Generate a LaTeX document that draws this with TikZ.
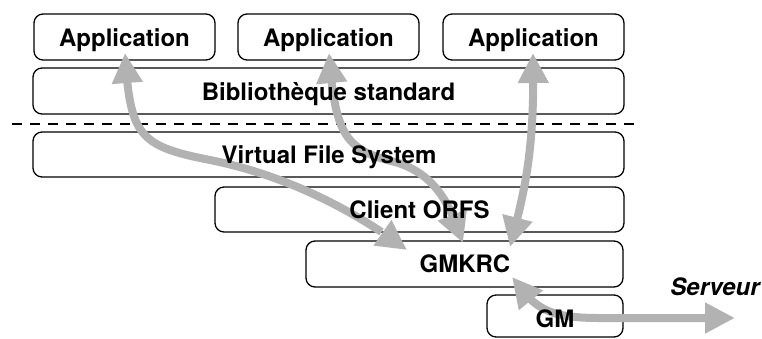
\documentclass[tikz,border=0pt]{standalone}
\usepackage{fontspec}
\setmainfont{TeX Gyre Heros}
\usetikzlibrary{arrows.meta,bending}
\begin{document}
\begin{tikzpicture}[x=1pt,y=-1pt,
  box/.style={draw,line width=1.3pt,rounded corners=9pt,fill=white,inner sep=0pt,outer sep=0pt},
  lbl/.style={font=\fontsize{24}{28}\selectfont\bfseries,anchor=base,inner sep=0pt},
  flow/.style={line width=8pt,draw=black!30,
    {Triangle[length=30pt,width=29pt,fill=black!30,color=black!30]}-{Triangle[length=30pt,width=29pt,fill=black!30,color=black!30]}}]
\useasboundingbox (0,0) rectangle (762,338);
% boxes
\node[box,minimum width=181pt,minimum height=46pt] (app1) at (124.5,37) {};
\node[box,minimum width=181pt,minimum height=46pt] (app2) at (328.5,37) {};
\node[box,minimum width=181pt,minimum height=46pt] (app3) at (533.5,37) {};
\node[box,minimum width=591pt,minimum height=46pt] (bib) at (328.5,91) {};
\coordinate (dl) at (12,124);
\coordinate (dr) at (638,124);
\draw[line width=1.3pt,dash pattern=on 10pt off 8pt] (dl) -- (dr);
\node[box,minimum width=591pt,minimum height=45pt] (vfs) at (328.5,154.5) {};
\node[box,minimum width=409pt,minimum height=45pt] (orfs) at (419.5,209.5) {};
\node[box,minimum width=317pt,minimum height=46pt] (gmkrc) at (464.5,264) {};
\node[box,minimum width=136pt,minimum height=42pt] (gm) at (555,316) {};
% arrow end points
\coordinate (t1) at (125,53);
\coordinate (h1) at (407,250);
\coordinate (t2) at (329,53);
\coordinate (h2) at (463,243);
\coordinate (t3) at (533,53);
\coordinate (h3) at (510,247);
\coordinate (t4) at (512,277);
\coordinate (srv) at (735,318);
% arrows
\draw[flow] (t1) .. controls (130,135) and (138,146) .. (210,160)
               .. controls (300,178) and (370,222) .. (h1);
\draw[flow] (t2) .. controls (335,135) and (345,150) .. (395,162)
               .. controls (440,175) and (452,212) .. (h2);
\draw[flow] (t3) .. controls (535,150) and (525,190) .. (h3);
\draw[flow] (t4) .. controls (535,310) and (550,318) .. (600,318) -- (srv);
% labels
\node[lbl] (l1) at (124.5,46) {Application};
\node[lbl] (l2) at (328.5,46) {Application};
\node[lbl] (l3) at (533.5,46) {Application};
\node[lbl] (l4) at (328.5,100) {Bibliothèque standard};
\node[lbl] (l5) at (329,163) {Virtual File System};
\node[lbl] (l6) at (419.5,218) {Client ORFS};
\node[lbl] (l7) at (465,272) {GMKRC};
\node[lbl] (l8) at (555,327) {GM};
\node[lbl,font=\fontsize{24}{28}\selectfont\bfseries\itshape] (l9) at (715,295) {Serveur};
\end{tikzpicture}
\end{document}
